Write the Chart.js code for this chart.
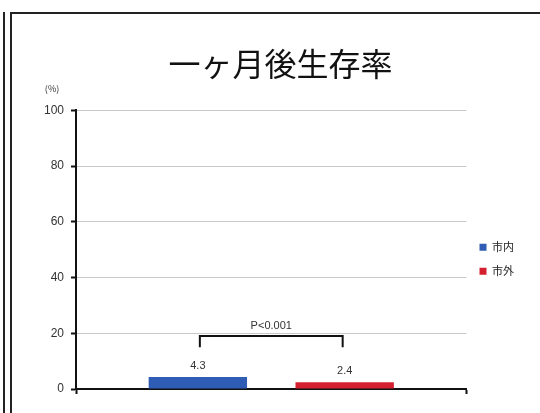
<!DOCTYPE html>
<html>
<head>
<meta charset="utf-8">
<script src="https://cdn.jsdelivr.net/npm/chart.js@4"></script>
<style>
  html, body { margin: 0; padding: 0; background: #fff; }
  body { width: 540px; height: 413px; position: relative; overflow: hidden; }
  #lineOuter { position: absolute; left: 3px; top: 12px; width: 2px; height: 401px; background: #222; }
  #frame { position: absolute; left: 10px; top: 12px; width: 530px; height: 401px;
           border-left: 2px solid #222; border-top: 2px solid #222; box-sizing: border-box; }
  #wrap { position: absolute; left: 12px; top: 14px; width: 528px; height: 399px; }
</style>
</head>
<body>
<div id="lineOuter"></div>
<div id="frame"></div>
<div id="wrap"><canvas id="chart"></canvas></div>
<script>
// 一ヶ月後生存率
const categories = [''];
const seriesNames = ['市内', '市外'];
const seriesValues = [4.3, 2.4];
const seriesColors = ['#2f5db5', '#d4202e'];
const yTicks = [0, 20, 40, 60, 80, 100];
const pLabel = 'P<0.001';
const bracketTop = 19;
const bracketBottom = 15;

const FONT = '"Noto Sans CJK JP", "Noto Sans", sans-serif';

const extras = {
    id: 'extras',
    afterDatasetsDraw(chart) {
        const ctx = chart.ctx;
        const y = chart.scales.y;
        const area = chart.chartArea;
        ctx.save();
        // (%) unit
        ctx.fillStyle = '#333';
        ctx.font = '9px ' + FONT;
        ctx.textAlign = 'center';
        ctx.textBaseline = 'middle';
        ctx.fillText('(%)', area.left - 24, area.top - 22);
        // value labels
        ctx.font = '11px "Liberation Sans", sans-serif';
        ctx.textBaseline = 'bottom';
        seriesValues.forEach((v, i) => {
            const bar = chart.getDatasetMeta(i).data[0];
            ctx.fillText(v.toFixed(1), bar.x, bar.y - 6);
        });
        // bracket
        const x1 = chart.getDatasetMeta(0).data[0].x + 2;
        const x2 = chart.getDatasetMeta(1).data[0].x - 2;
        const yt = y.getPixelForValue(bracketTop);
        const yb = y.getPixelForValue(bracketBottom);
        ctx.strokeStyle = '#111';
        ctx.lineWidth = 2;
        ctx.beginPath();
        ctx.moveTo(x1, yb);
        ctx.lineTo(x1, yt);
        ctx.lineTo(x2, yt);
        ctx.lineTo(x2, yb);
        ctx.stroke();
        ctx.fillStyle = '#333';
        ctx.textBaseline = 'bottom';
        ctx.fillText(pLabel, (x1 + x2) / 2, yt - 5);
        ctx.restore();
    }
};

const ctx = document.getElementById('chart').getContext('2d');
new Chart(ctx, {
    type: 'bar',
    data: {
        labels: categories,
        datasets: seriesNames.map((name, i) => ({
            label: name,
            data: [seriesValues[i]],
            backgroundColor: seriesColors[i],
            borderWidth: 0,
            barPercentage: 0.67,
            categoryPercentage: 0.752
        }))
    },
    options: {
        responsive: true,
        maintainAspectRatio: false,
        animation: false,
        layout: { padding: { left: 25, right: 16, top: 0, bottom: 19 } },
        plugins: {
            title: {
                display: true,
                text: '一ヶ月後生存率',
                color: '#111',
                font: { family: FONT, size: 32, weight: 'normal' },
                padding: { top: 31, bottom: 27 }
            },
            legend: {
                position: 'right',
                title: { display: true, text: '', padding: { top: 96, bottom: 0 } },
                labels: {
                    boxWidth: 7,
                    boxHeight: 7,
                    padding: 13,
                    color: '#222',
                    font: { family: FONT, size: 11 }
                }
            },
            tooltip: { enabled: false }
        },
        scales: {
            x: {
                grid: { drawOnChartArea: false, drawTicks: true, tickLength: 5, tickColor: '#111', tickWidth: 2 },
                border: { color: '#111', width: 2 },
                ticks: { display: false }
            },
            y: {
                min: 0,
                max: 100,
                afterBuildTicks: (scale) => { scale.ticks = yTicks.map(v => ({ value: v })); },
                grid: { color: '#c8c8c8', lineWidth: 1, tickLength: 5, tickColor: '#111', tickWidth: 2 },
                border: { color: '#111', width: 2 },
                ticks: {
                    padding: 7,
                    color: '#333',
                    font: { family: '"Liberation Sans", sans-serif', size: 12 }
                }
            }
        }
    },
    plugins: [extras]
});
</script>
</body>
</html>
